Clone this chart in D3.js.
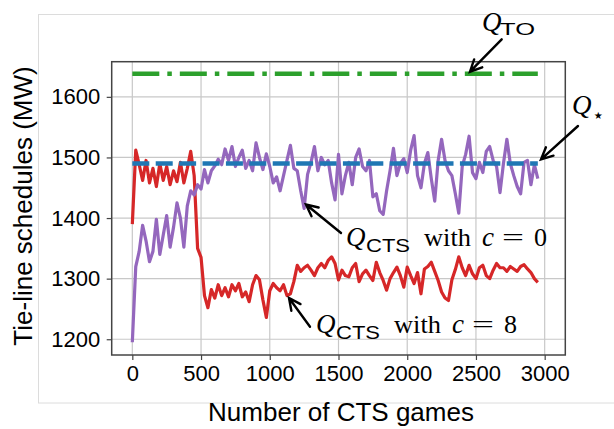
<!DOCTYPE html>
<html>
<head>
<meta charset="utf-8">
<script src="https://cdn.jsdelivr.net/npm/d3@7"></script>
<style>
  body { margin: 0; background: #fff; }
  text { fill: #000; }
</style>
</head>
<body>
<svg id="chart" width="614" height="429"></svg>
<script>
// data: one sample every 25 CTS games, 0..2950
const gameStep = 25;

const qCtsC0 = [
	1195, 1320, 1345, 1388, 1362, 1328, 1345, 1398, 1340, 1372,
	1404, 1352, 1385, 1425, 1400, 1352, 1420, 1445, 1438, 1455,
	1448, 1480, 1458, 1478, 1486, 1497, 1488, 1514, 1495, 1518,
	1485, 1500, 1512, 1482, 1495, 1478, 1524, 1500, 1480, 1506,
	1485, 1458, 1468, 1445, 1470, 1495, 1520, 1482, 1478, 1445,
	1416, 1472, 1492, 1518, 1478, 1500, 1488, 1495, 1458, 1430,
	1505, 1440, 1470, 1492, 1455, 1500, 1514, 1485, 1478, 1495,
	1435, 1440, 1412, 1406, 1445, 1478, 1515, 1470, 1490, 1498,
	1475, 1512, 1536, 1470, 1450, 1490, 1508, 1465, 1428, 1495,
	1530, 1495, 1478, 1470, 1440, 1408, 1485, 1505, 1535, 1475,
	1465, 1492, 1475, 1510, 1518, 1495, 1485, 1442, 1490, 1530,
	1490, 1470, 1452, 1440, 1492, 1495, 1455, 1488, 1465
];

const qCtsC8 = [
	1390, 1512, 1488, 1462, 1495, 1458, 1482, 1452, 1490, 1462,
	1485, 1455, 1478, 1460, 1492, 1458, 1482, 1510, 1470, 1350,
	1335, 1272, 1252, 1282, 1268, 1290, 1272, 1285, 1270, 1290,
	1280, 1292, 1270, 1278, 1262, 1290, 1305, 1298, 1265, 1236,
	1280, 1292, 1285, 1280, 1290, 1272, 1275, 1295, 1322, 1312,
	1318, 1322, 1314, 1305, 1318, 1325, 1318, 1330, 1336, 1325,
	1298, 1314, 1305, 1303, 1318, 1325, 1295, 1308, 1314, 1305,
	1297, 1327, 1310, 1297, 1281, 1300, 1310, 1319, 1305, 1286,
	1319, 1305, 1292, 1310, 1275, 1316, 1320, 1327, 1312, 1297,
	1278, 1268, 1264, 1298, 1315, 1336, 1318, 1305, 1322, 1308,
	1300, 1318, 1322, 1305, 1300, 1314, 1325, 1318, 1318, 1312,
	1320, 1316, 1312, 1320, 1323, 1316, 1310, 1300, 1294
];

const qStar = 1490;   // Q_*
const qTo = 1638;     // Q_TO
const refLineEnd = 2950;

const xTicks = [0, 500, 1000, 1500, 2000, 2500, 3000];
const yTicks = [1200, 1300, 1400, 1500, 1600];

// configs
const PLOT = { left: 111.7, top: 61.7, right: 565.3, bottom: 355 };
const X_DOMAIN = [-150, 3150];
const Y_DOMAIN = [1174, 1658];
const GRID_COLOR = '#c8c8c8';
const FRAME_COLOR = '#444';
const SANS = '"Liberation Sans", Arial, sans-serif';
const SERIF = '"Liberation Serif", "Times New Roman", serif';

const svg = d3.select('#chart');

const x = d3.scaleLinear().domain(X_DOMAIN).range([PLOT.left, PLOT.right]);
const y = d3.scaleLinear().domain(Y_DOMAIN).range([PLOT.bottom, PLOT.top]);

// light outer border of the figure
svg.append('rect')
	.attr('x', 38.5).attr('y', 14.5)
	.attr('width', 600).attr('height', 388.5)
	.attr('fill', 'none')
	.attr('stroke', '#dcdcdc')
	.attr('stroke-width', 1);

// grid
const grid = svg.append('g').attr('class', 'grid');
grid.selectAll('line.gx')
	.data(xTicks).join('line')
	.attr('x1', d => x(d)).attr('x2', d => x(d))
	.attr('y1', PLOT.top).attr('y2', PLOT.bottom)
	.attr('stroke', GRID_COLOR).attr('stroke-width', 1.2);
grid.selectAll('line.gy')
	.data(yTicks).join('line')
	.attr('x1', PLOT.left).attr('x2', PLOT.right)
	.attr('y1', d => y(d)).attr('y2', d => y(d))
	.attr('stroke', GRID_COLOR).attr('stroke-width', 1.2);

// axes
const fmt = d3.format('d');
const xAxis = svg.append('g')
	.attr('transform', `translate(0,${PLOT.bottom})`)
	.call(d3.axisBottom(x).tickValues(xTicks).tickFormat(fmt).tickSize(5).tickPadding(5));
const yAxis = svg.append('g')
	.attr('transform', `translate(${PLOT.left},0)`)
	.call(d3.axisLeft(y).tickValues(yTicks).tickFormat(fmt).tickSize(5).tickPadding(6.5));

[xAxis, yAxis].forEach(ax => {
	ax.select('.domain').remove();
	ax.selectAll('line').attr('stroke', FRAME_COLOR).attr('stroke-width', 1.2);
	ax.selectAll('text')
		.style('font-family', SANS)
		.style('font-size', '22px')
		.attr('fill', '#000');
});

// series
const lineGen = d3.line()
	.x((d, i) => x(i * gameStep))
	.y(d => y(d));

const plot = svg.append('g');

plot.append('path')
	.datum(qCtsC8)
	.attr('d', lineGen)
	.attr('fill', 'none')
	.attr('stroke', '#d62728')
	.attr('stroke-width', 3.2)
	.attr('stroke-linejoin', 'round');

plot.append('path')
	.datum(qCtsC0)
	.attr('d', lineGen)
	.attr('fill', 'none')
	.attr('stroke', '#9467bd')
	.attr('stroke-width', 3.2)
	.attr('stroke-linejoin', 'round');

// reference levels
plot.append('line')
	.attr('x1', x(0)).attr('x2', x(refLineEnd))
	.attr('y1', y(qStar)).attr('y2', y(qStar))
	.attr('stroke', '#1f77b4')
	.attr('stroke-width', 4.5)
	.attr('stroke-dasharray', '17,6.4');

plot.append('line')
	.attr('x1', x(0)).attr('x2', x(refLineEnd))
	.attr('y1', y(qTo)).attr('y2', y(qTo))
	.attr('stroke', '#2ca02c')
	.attr('stroke-width', 4.5)
	.attr('stroke-dasharray', '27,8,4.5,8');

// frame
svg.append('rect')
	.attr('x', PLOT.left).attr('y', PLOT.top)
	.attr('width', PLOT.right - PLOT.left)
	.attr('height', PLOT.bottom - PLOT.top)
	.attr('fill', 'none')
	.attr('stroke', FRAME_COLOR)
	.attr('stroke-width', 1.5);

// axis titles
svg.append('text')
	.attr('x', 341).attr('y', 421)
	.attr('text-anchor', 'middle')
	.style('font-family', SANS)
	.style('font-size', '26px')
	.text('Number of CTS games');

svg.append('text')
	.attr('transform', 'translate(32,206) rotate(-90)')
	.attr('text-anchor', 'middle')
	.style('font-family', SANS)
	.style('font-size', '26px')
	.text('Tie-line schedules (MW)');

// annotations
const ann = svg.append('g').attr('class', 'annotations');

function arrow(x1, y1, x2, y2) {
	const a = Math.atan2(y2 - y1, x2 - x1);
	const len = 13, spread = 0.45;
	const h1 = [x2 - len * Math.cos(a - spread), y2 - len * Math.sin(a - spread)];
	const h2 = [x2 - len * Math.cos(a + spread), y2 - len * Math.sin(a + spread)];
	ann.append('path')
		.attr('d', `M${x1},${y1}L${x2},${y2}M${h1[0]},${h1[1]}L${x2},${y2}L${h2[0]},${h2[1]}`)
		.attr('fill', 'none')
		.attr('stroke', '#000')
		.attr('stroke-width', 2.4)
		.attr('stroke-linecap', 'round');
}

function piece(px, py, str, opts) {
	const t = ann.append('text')
		.attr('x', px).attr('y', py)
		.style('font-family', opts.family)
		.style('font-size', opts.size + 'px')
		.style('font-style', opts.italic ? 'italic' : 'normal')
		.text(str);
	if (opts.len) t.attr('textLength', opts.len).attr('lengthAdjust', 'spacingAndGlyphs');
}

// Q_CTS with c = k
function ctsLabel(x0, base, k) {
	piece(x0, base, 'Q', { family: SERIF, size: 27, italic: true });
	piece(x0 + 20, base + 6, 'CTS', { family: SANS, size: 18, len: 44 });
	piece(x0 + 78, base, 'with', { family: SERIF, size: 26, len: 47 });
	piece(x0 + 136, base, 'c', { family: SERIF, size: 27, italic: true });
	piece(x0 + 156, base, '=', { family: SERIF, size: 26, len: 22 });
	piece(x0 + 188, base, k, { family: SERIF, size: 26 });
}

ctsLabel(346, 246, '0');
ctsLabel(316, 332.5, '8');

// Q_TO
piece(482, 31, 'Q', { family: SERIF, size: 27, italic: true });
piece(500, 35, 'TO', { family: SANS, size: 17, len: 35 });

// Q_star
piece(572, 114, 'Q', { family: SERIF, size: 27, italic: true });
piece(592, 122, '⋆', { family: '"DejaVu Sans", sans-serif', size: 20 });

arrow(501.7, 39.3, 470, 71.7);
arrow(578, 126, 541, 159.3);
arrow(341, 233, 306, 204.5);
arrow(310, 326.7, 289, 298);
</script>
</body>
</html>
